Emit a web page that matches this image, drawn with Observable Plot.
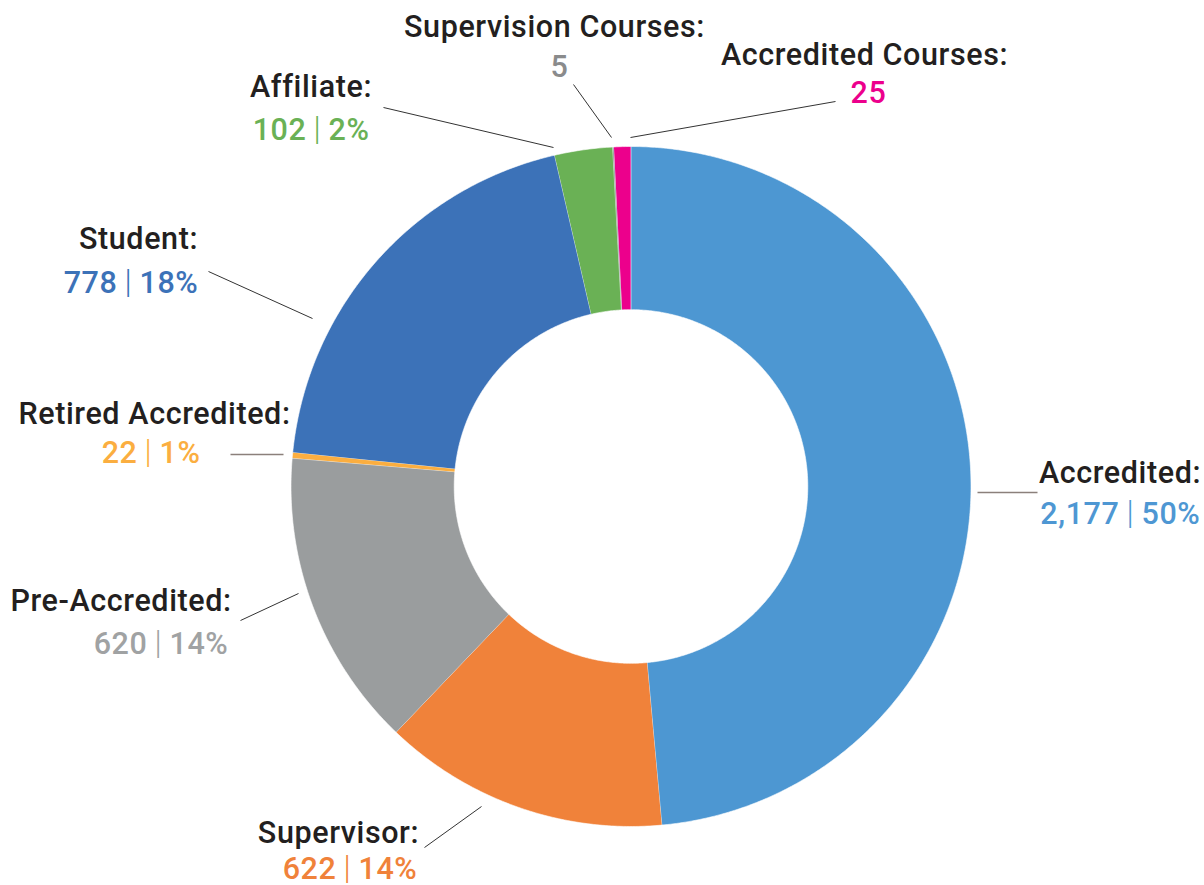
<!DOCTYPE html>
<html>
<head>
<meta charset="utf-8">
<script src="https://cdn.jsdelivr.net/npm/d3@7"></script>
<script src="https://cdn.jsdelivr.net/npm/@observablehq/plot@0.6"></script>
<style>
  html, body { margin: 0; padding: 0; background: #fff; }
  #chart svg { display: block; }
  #chart svg text { letter-spacing: 0.6px; }
</style>
</head>
<body>
<div id="chart"></div>
<script>
// ---- data ----
const categories = ["Accredited", "Supervisor", "Pre-Accredited", "Retired Accredited", "Student", "Affiliate", "Supervision Courses", "Accredited Courses"];
const counts = [2177, 622, 620, 22, 778, 102, 5, 25];
const percents = ["50%", "14%", "14%", "1%", "18%", "2%", null, null];
// share of the ring each slice occupies as drawn in the chart (%)
const ringShare = [48.6, 13.6, 14.2, 0.28, 19.8, 2.75, 0.06, 0.8];
const sliceColors = ["#4d97d2", "#f0823a", "#9a9d9e", "#fbae40", "#3c72b8", "#6ab155", "#939598", "#ec008c"];
const valueColors = ["#4e97d3", "#f0823a", "#a0a2a3", "#fbae40", "#3c72b8", "#6ab155", "#8a8b8c", "#ec008c"];

// ---- layout (frame pixels) ----
const W = 1204, H = 885;
const CX = 630.5, CY = 486, R = 340;   // donut centre / outer radius in frame pixels
const INNER = 0.52;                      // inner radius as a fraction of outer
const ux = px => (px - CX) / R;
const uy = py => (CY - py) / R;

// label layout: title centre & baseline, value pipe x & baseline, leader line
const labelLayout = [
  {title: [1119.5, 482], value: [1130, 523], line: [977, 492, 1037, 492], lineColor: "#8b807b", lw: 1.5},
  {title: [338, 842],    value: [347, 878],  line: [424, 847, 481, 806],  lineColor: "#333", lw: 1},
  {title: [120.5, 610],  value: [158, 653],  line: [240, 620, 298, 593],  lineColor: "#333", lw: 1},
  {title: [154, 423],    value: [148, 462],  line: [230, 454, 283, 454],  lineColor: "#8b807b", lw: 1.5},
  {title: [138, 248],    value: [128, 292],  line: [208, 271, 312, 318],  lineColor: "#333", lw: 1},
  {title: [310.5, 96],   value: [317, 139],  line: [383, 107, 553, 147],  lineColor: "#333", lw: 1},
  {title: [554, 36],     value: [559, 76],   line: [573, 84, 611, 137],   lineColor: "#333", lw: 1},
  {title: [864, 64],     value: [868, 102],  line: [630, 137, 835, 101],  lineColor: "#333", lw: 1}
];

// ---- build slice outlines from the data ----
const pie = d3.pie().sort(null).value(d => d.share).startAngle(0).endAngle(2 * Math.PI);
const rows = categories.map((c, i) => ({category: c, share: ringShare[i], count: counts[i], pct: percents[i], i}));
const arcs = pie(rows);
const slicePts = [];
for (const a of arcs) {
  const steps = Math.max(2, Math.ceil((a.endAngle - a.startAngle) * 180 / Math.PI * 2));
  for (let k = 0; k <= steps; k++) {
    const t = a.startAngle + (a.endAngle - a.startAngle) * k / steps;
    slicePts.push({category: a.data.category, x: Math.sin(t), y: Math.cos(t)});
  }
  for (let k = steps; k >= 0; k--) {
    const t = a.startAngle + (a.endAngle - a.startAngle) * k / steps;
    slicePts.push({category: a.data.category, x: INNER * Math.sin(t), y: INNER * Math.cos(t)});
  }
}

// ---- label rows ----
const fmt = d3.format(",");
const titleRows = rows.map(r => ({x: ux(labelLayout[r.i].title[0]), y: uy(labelLayout[r.i].title[1]), text: r.category + ":"}));
const numRows = [], pipeRows = [], pctRows = [], soloRows = [];
rows.forEach(r => {
  const L = labelLayout[r.i];
  const y = uy(L.value[1]);
  if (r.pct) {
    numRows.push({x: ux(L.value[0] - 11), y, text: fmt(r.count), color: valueColors[r.i]});
    pipeRows.push({x: ux(L.value[0]), y, text: "|", color: valueColors[r.i]});
    pctRows.push({x: ux(L.value[0] + 11), y, text: r.pct, color: valueColors[r.i]});
  } else {
    soloRows.push({x: ux(L.value[0]), y, text: fmt(r.count), color: valueColors[r.i]});
  }
});
const leaderRows = rows.map(r => {
  const l = labelLayout[r.i].line;
  return {x1: ux(l[0]), y1: uy(l[1]), x2: ux(l[2]), y2: uy(l[3]), color: labelLayout[r.i].lineColor, lw: labelLayout[r.i].lw};
});

const FONT = "Roboto, 'Noto Sans', sans-serif";
const FS = 30.5;
const textCommon = {fontSize: FS, fontWeight: 500, lineAnchor: "bottom", fontFamily: FONT};

const chart = Plot.plot({
  width: W,
  height: H,
  margin: 0,
  style: {background: "#fff", fontFamily: FONT},
  x: {domain: [ux(0), ux(W)], axis: null},
  y: {domain: [uy(H), uy(0)], axis: null},
  color: {domain: categories, range: sliceColors},
  marks: [
    Plot.line(slicePts, {x: "x", y: "y", z: "category", fill: "category", stroke: "#fff", strokeWidth: 0.6, curve: "linear"}),
    Plot.link(leaderRows, {x1: "x1", y1: "y1", x2: "x2", y2: "y2", stroke: d => d.color, strokeWidth: d => d.lw}),
    Plot.text(titleRows, {x: "x", y: "y", text: "text", fill: "#231f20", textAnchor: "middle", ...textCommon}),
    Plot.text(numRows, {x: "x", y: "y", text: "text", fill: d => d.color, textAnchor: "end", ...textCommon}),
    Plot.text(pipeRows, {x: "x", y: "y", text: "text", fill: d => d.color, textAnchor: "middle", fontSize: FS + 2, fontWeight: 300, lineAnchor: "bottom", fontFamily: FONT}),
    Plot.text(pctRows, {x: "x", y: "y", text: "text", fill: d => d.color, textAnchor: "start", ...textCommon}),
    Plot.text(soloRows, {x: "x", y: "y", text: "text", fill: d => d.color, textAnchor: "middle", ...textCommon})
  ]
});
document.getElementById("chart").append(chart);
</script>
</body>
</html>
